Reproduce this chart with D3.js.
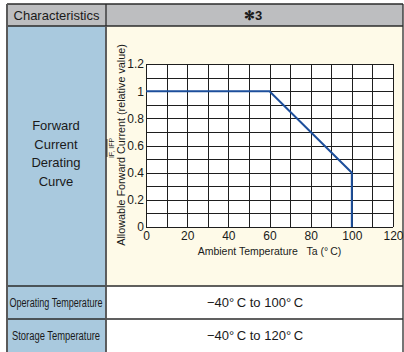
<!DOCTYPE html>
<html>
<head>
<meta charset="utf-8">
<script src="https://cdn.jsdelivr.net/npm/d3@7"></script>
<style>
  html, body { margin: 0; padding: 0; background: #ffffff; }
  svg { display: block; font-family: "Liberation Sans", Arial, sans-serif; }
</style>
</head>
<body>
<svg id="chart" width="404" height="352"></svg>
<script>
// Derating curve: ambient temperature (°C) vs allowable forward current (relative)
const curveTemp = [0, 60, 100, 100];
const curveCurrent = [1, 1, 0.4, 0];

const xTicks = [0, 20, 40, 60, 80, 100, 120];
const yTicks = [0, 0.2, 0.4, 0.6, 0.8, 1, 1.2];
const xGrid = d3.range(0, 121, 10);
const yGrid = d3.range(0, 13).map(i => i / 10);

const rowLabels = ["Operating Temperature", "Storage Temperature"];
const rowValues = ["\u221240\u00b0\u2009C to 100\u00b0\u2009C", "\u221240\u00b0\u2009C to 120\u00b0\u2009C"];
const sectionLabel = ["Forward", "Current", "Derating", "Curve"];

const svg = d3.select("#chart");

// ---- table layout ----
const T = { left: 7, right: 403, top: 4, headBottom: 26, split: 106, chartBottom: 286, row1Bottom: 319, bottom: 352 };

// backgrounds
svg.append("rect").attr("x", T.left).attr("y", T.top).attr("width", T.right - T.left).attr("height", T.headBottom - T.top).attr("fill", "#bdbec0");
svg.append("rect").attr("x", T.left).attr("y", T.headBottom).attr("width", T.split - T.left).attr("height", T.bottom - T.headBottom).attr("fill", "#a9c9de");
svg.append("rect").attr("x", T.split).attr("y", T.headBottom).attr("width", T.right - T.split).attr("height", T.chartBottom - T.headBottom).attr("fill", "#fefae8");
svg.append("rect").attr("x", T.split).attr("y", T.chartBottom).attr("width", T.right - T.split).attr("height", T.bottom - T.chartBottom).attr("fill", "#ffffff");

// cell borders
const border = svg.append("g").attr("stroke", "#2b2b2b").attr("stroke-width", 1.3).attr("fill", "none");
[T.top, T.headBottom, T.chartBottom, T.row1Bottom].forEach(y => {
  border.append("line").attr("x1", T.left).attr("x2", T.right).attr("y1", y).attr("y2", y);
});
border.append("line").attr("x1", T.split).attr("x2", T.split).attr("y1", T.top).attr("y2", T.bottom);
border.append("line").attr("x1", T.right).attr("x2", T.right).attr("y1", T.top).attr("y2", T.bottom);
border.append("line").attr("x1", T.left).attr("x2", T.left).attr("y1", T.top).attr("y2", T.bottom).attr("stroke", "#5a5a5a").attr("stroke-width", 2);
border.append("line").attr("x1", T.split).attr("x2", T.split).attr("y1", T.headBottom).attr("y2", T.bottom).attr("stroke", "#5a5a5a").attr("stroke-width", 1.6);

// header text
svg.append("text").attr("x", (T.left + T.split) / 2).attr("y", 20).attr("text-anchor", "middle")
  .attr("font-size", 13).attr("fill", "#1a1a1a").text("Characteristics");
svg.append("text").attr("x", 253).attr("y", 20).attr("text-anchor", "middle")
  .attr("font-size", 13).attr("font-weight", "bold").attr("fill", "#1a1a1a").text("\u273B3");

// section label
svg.append("text").attr("x", 56).attr("text-anchor", "middle").attr("font-size", 13).attr("fill", "#1a1a1a")
  .selectAll("tspan").data(sectionLabel).join("tspan")
  .attr("x", 56).attr("y", (d, i) => 130 + i * 18.5).text(d => d);

// lower rows
rowLabels.forEach((lab, i) => {
  const cy = [T.chartBottom, T.row1Bottom][i] + 16.5;
  svg.append("text").attr("x", 56).attr("y", cy + 4.5).attr("text-anchor", "middle")
    .attr("font-size", 12.5).attr("fill", "#1a1a1a")
    .attr("textLength", i === 0 ? 93 : 88).attr("lengthAdjust", "spacingAndGlyphs").text(lab);
  svg.append("text").attr("x", 255).attr("y", cy + 4.5).attr("text-anchor", "middle")
    .attr("font-size", 13).attr("fill", "#1a1a1a").text(rowValues[i]);
});

// ---- derating chart ----
const x = d3.scaleLinear().domain([0, 120]).range([146, 393]);
const y = d3.scaleLinear().domain([0, 1.2]).range([227, 64]);

svg.append("rect").attr("x", x(0)).attr("y", y(1.2)).attr("width", x(120) - x(0)).attr("height", y(0) - y(1.2)).attr("fill", "#ffffff");

const grid = svg.append("g").attr("stroke", "#1e1e1e").attr("stroke-width", 1);
grid.selectAll("line.v").data(xGrid).join("line").attr("class", "v")
  .attr("x1", d => Math.round(x(d)) + 0.5).attr("x2", d => Math.round(x(d)) + 0.5)
  .attr("y1", y(0)).attr("y2", y(1.2));
grid.selectAll("line.h").data(yGrid).join("line").attr("class", "h")
  .attr("y1", d => Math.round(y(d)) + 0.5).attr("y2", d => Math.round(y(d)) + 0.5)
  .attr("x1", x(0)).attr("x2", x(120));

// axes (labels only; frame drawn by the grid)
const xAxis = svg.append("g").attr("transform", `translate(0,${y(0)})`)
  .call(d3.axisBottom(x).tickValues(xTicks).tickSize(0).tickPadding(4).tickFormat(d3.format("d")));
const yAxis = svg.append("g").attr("transform", `translate(${x(0)},0)`)
  .call(d3.axisLeft(y).tickValues(yTicks).tickSize(0).tickPadding(2).tickFormat(d => d3.format("~g")(d)));
[xAxis, yAxis].forEach(a => {
  a.select(".domain").remove();
  a.selectAll("text").attr("font-size", 12).attr("fill", "#1a1a1a").attr("font-family", "'Liberation Sans', Arial, sans-serif");
});

// derating line
const line = d3.line().x((d, i) => x(curveTemp[i])).y(d => y(d));
svg.append("path").datum(curveCurrent).attr("d", line)
  .attr("fill", "none").attr("stroke", "#1d4f9c").attr("stroke-width", 2).attr("stroke-linejoin", "miter");

// axis titles
svg.append("text").attr("x", (x(0) + x(120)) / 2).attr("y", 255).attr("text-anchor", "middle")
  .attr("font-size", 10.5).attr("fill", "#1a1a1a").attr("xml:space", "preserve")
  .text("Ambient Temperature   Ta (\u00b0\u2009C)");

svg.append("text").attr("transform", "translate(125,145) rotate(-90)").attr("text-anchor", "middle")
  .attr("font-size", 10.8).attr("fill", "#1a1a1a")
  .text("Allowable Forward Current (relative value)");

const sub = svg.append("g").attr("transform", "translate(114,148) rotate(-90)");
sub.append("text").attr("x", 0).attr("y", 0).attr("text-anchor", "middle")
  .attr("font-size", 7).attr("fill", "#1a1a1a").text("IF, IFP");
sub.append("line").attr("x1", -9).attr("x2", 9).attr("y1", -7).attr("y2", -7)
  .attr("stroke", "#1a1a1a").attr("stroke-width", 0.8);
</script>
</body>
</html>
